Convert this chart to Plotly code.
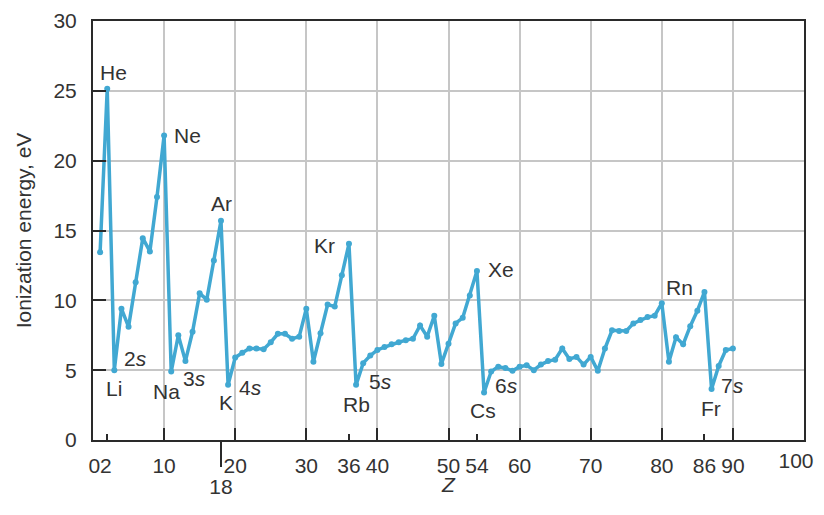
import plotly.graph_objects as go

# Atomic number Z and first ionization energy (eV)
Z = list(range(1, 91))
IE = [13.45, 25.15, 5.0, 9.4, 8.1, 11.3, 14.45, 13.5, 17.4, 21.8,
      4.9, 7.5, 5.65, 7.75, 10.5, 10.05, 12.85, 15.7, 3.95, 5.9,
      6.25, 6.55, 6.55, 6.5, 7.0, 7.6, 7.6, 7.25, 7.4, 9.4,
      5.6, 7.65, 9.7, 9.55, 11.8, 14.05, 3.95, 5.5, 6.05, 6.45,
      6.65, 6.85, 7.0, 7.15, 7.25, 8.2, 7.4, 8.9, 5.45, 6.9,
      8.35, 8.75, 10.35, 12.1, 3.4, 4.9, 5.25, 5.15, 4.95, 5.25,
      5.35, 5.0, 5.4, 5.65, 5.75, 6.55, 5.8, 5.95, 5.4, 5.95,
      4.95, 6.55, 7.85, 7.8, 7.8, 8.35, 8.6, 8.8, 8.9, 9.8,
      5.6, 7.35, 6.85, 8.15, 9.25, 10.6, 3.65, 5.3, 6.45, 6.55]

# Labelled elements
noble_names = ["He", "Ne", "Ar", "Kr", "Xe", "Rn"]
noble_Z = [2, 10, 18, 36, 54, 86]
alkali_names = ["Li", "Na", "K", "Rb", "Cs", "Fr"]
alkali_Z = [3, 11, 19, 37, 55, 87]
orbital_labels = ["2<i>s</i>", "3<i>s</i>", "4<i>s</i>", "5<i>s</i>", "6<i>s</i>", "7<i>s</i>"]

# Axis ticks
x_label_vals = [1, 10, 20, 30, 36, 40, 50, 54, 60, 70, 80, 86, 90]
x_label_text = ["02", "10", "20", "30", "36", "40", "50", "54", "60", "70", "80", "86", "90"]
x_end_tick = [100]
x_end_text = ["100"]
x_long_ticks = [10, 20, 30, 40, 50, 60, 70, 80, 90]
x_short_ticks = [2, 36, 54, 86]
x_extra_tick = [18]
y_ticks = [0, 5, 10, 15, 20, 25, 30]

# Styles (pixel offsets for labels)
noble_offsets = [(6, 16), (23, 0), (1, 17), (-24, -2), (24, 2), (-25, 4)]
alkali_offsets = [(0, -18), (-5, -20), (-2, -18), (0, -20), (-1, -18), (-1, -19)]
orbital_offsets = [(21, 12), (23, -7), (22, -3), (24, 3), (22, 7), (21, 4)]

LINE_C = "#41a8d2"
AX_C = "#2a2a2a"
GRID_C = "#c6c6c6"
TXT_C = "#333333"
FONT = "Liberation Sans, Arial, sans-serif"
FS = 21

fig = go.Figure()
fig.add_trace(go.Scatter(x=Z, y=IE, mode="lines+markers",
                         line=dict(color=LINE_C, width=3.5),
                         marker=dict(color=LINE_C, size=6),
                         showlegend=False, hoverinfo="x+y"))
# invisible carriers for the overlay tick axes
fig.add_trace(go.Scatter(x=Z, y=IE, xaxis="x2", mode="none", showlegend=False, hoverinfo="skip"))
fig.add_trace(go.Scatter(x=Z, y=IE, xaxis="x3", mode="none", showlegend=False, hoverinfo="skip"))

ann = []
def lab(zs, names, offs):
    for z, n, (dx, dy) in zip(zs, names, offs):
        ann.append(dict(x=z, y=IE[z - 1], text=n, showarrow=False,
                        xshift=dx, yshift=dy,
                        font=dict(family=FONT, size=FS, color=TXT_C)))
lab(noble_Z, noble_names, noble_offsets)
lab(alkali_Z, alkali_names, alkali_offsets)
lab(alkali_Z, orbital_labels, orbital_offsets)
# x-axis title
ann.append(dict(x=0.5, y=0, xref="paper", yref="paper", text="<i>Z</i>", showarrow=False,
                yshift=-58, font=dict(family=FONT, size=FS, color=TXT_C)))

# short ticks axis also carries the end label "100", nudged left to stay on the page
x3_vals = x_short_ticks + x_end_tick
x3_text = [""] * len(x_short_ticks) + x_end_text

# margins offset the page's 8px body margin
fig.update_layout(
    width=824, height=515,
    margin=dict(l=85, r=28, t=13, b=83),
    paper_bgcolor="white", plot_bgcolor="white",
    font=dict(family=FONT, size=FS, color=TXT_C),
    annotations=ann,
    xaxis=dict(range=[0, 100], showline=True, mirror=True, linecolor=AX_C, linewidth=2,
               tickmode="array", tickvals=x_label_vals, ticktext=x_label_text,
               ticks="", showgrid=False, zeroline=False, automargin=False,
               tickfont=dict(size=FS, color=TXT_C), ticklabelstandoff=6,
               minor=dict(tickmode="array", tickvals=x_long_ticks, ticks="inside", ticklen=12,
                          tickwidth=2, tickcolor=AX_C, showgrid=True,
                          gridcolor=GRID_C, gridwidth=1.5)),
    xaxis2=dict(range=[0, 100], overlaying="x", anchor="y", side="bottom",
                tickmode="array", tickvals=x_extra_tick, ticktext=["18"],
                ticks="outside", ticklen=26, tickwidth=2, tickcolor=AX_C, automargin=False,
                showgrid=False, zeroline=False, showline=False,
                tickfont=dict(size=FS, color=TXT_C), ticklabelstandoff=2),
    xaxis3=dict(range=[0, 100], overlaying="x", anchor="y", side="bottom",
                tickmode="array", tickvals=x3_vals, ticktext=x3_text, showticklabels=True,
                ticks="inside", ticklen=6, tickwidth=2, tickcolor=AX_C, automargin=False,
                showgrid=False, zeroline=False, showline=False,
                tickfont=dict(size=FS, color=TXT_C), ticklabelstandoff=6,
                ticklabelshift=-8, ticklabeloverflow="allow"),
    yaxis=dict(range=[0, 30], showline=True, mirror=True, linecolor=AX_C, linewidth=2,
               tickmode="array", tickvals=y_ticks, ticks="inside", ticklen=13,
               tickwidth=2, tickcolor=AX_C, showgrid=True, gridcolor=GRID_C, gridwidth=1.5,
               zeroline=False, tickfont=dict(size=FS, color=TXT_C), ticklabelstandoff=10,
               automargin=False,
               title=dict(text="Ionization energy, eV", font=dict(size=FS, color=TXT_C),
                          standoff=16)),
)

fig.write_html("out.html")
